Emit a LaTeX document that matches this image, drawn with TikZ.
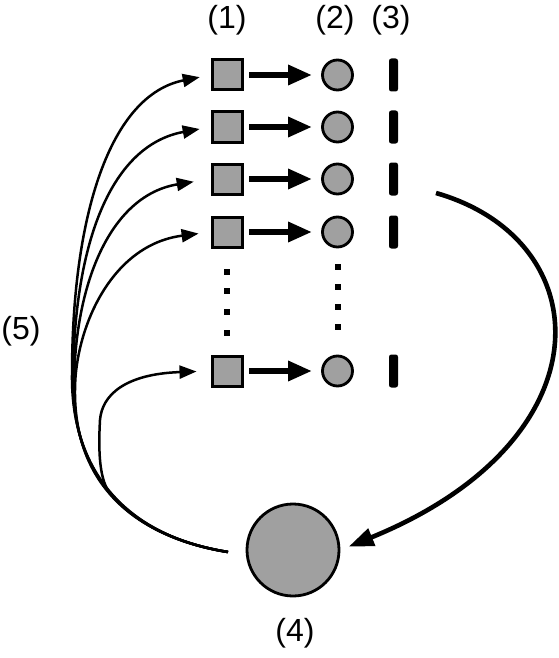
\documentclass[tikz,border=0pt]{standalone}
\usepackage{fontspec}
\setmainfont{Liberation Sans}
\usetikzlibrary{arrows.meta}
\definecolor{fillgray}{HTML}{A0A0A0}
\begin{document}
\begin{tikzpicture}[x=0.5pt,y=-0.5pt,
  sq/.style={rectangle,draw=black,line width=1.5pt,fill=fillgray,minimum size=15pt,inner sep=0pt},
  ci/.style={circle,draw=black,line width=1.4pt,fill=fillgray,minimum size=15pt,inner sep=0pt},
  bar/.style={rectangle,fill=black,minimum width=4.5pt,minimum height=16.5pt,inner sep=0pt,rounded corners=1.2pt},
  big/.style={circle,draw=black,line width=1.4pt,fill=fillgray,minimum size=46pt,inner sep=0pt},
  lbl/.style={font=\fontsize{16}{19}\selectfont,inner sep=0pt},
  thickarr/.style={line width=3pt,-{Triangle[length=12pt,width=9.5pt]},shorten <=2.75pt,shorten >=4.5pt},
  fanarr/.style={line width=1.25pt,-{Triangle[length=8.5pt,width=6.5pt]}},
  backarr/.style={line width=2.3pt,-{Triangle[length=12.5pt,width=9pt]}},
  dot/.style={fill=black}
]
\useasboundingbox (0,0) rectangle (558,658);

% labels
\node[lbl] (l1) at (227,20) {(1)};
\node[lbl] (l2) at (335,20) {(2)};
\node[lbl] (l3) at (391,20) {(3)};
\node[lbl] (l4) at (295,633) {(4)};
\node[lbl] (l5) at (21,331) {(5)};

% rows
\foreach \i/\y in {1/75,2/127,3/179,4/232,5/371}{
  \node[sq] (s\i) at (227,\y) {};
  \node[ci] (c\i) at (337.5,\y) {};
  \node[bar] (b\i) at (393.5,\y) {};
  \draw[thickarr] (s\i) -- (c\i);
}

% dots
\foreach \y in {272,291,312,333}{
  \fill[dot] (224,\y-3) rectangle (230,\y+3);
}
\foreach \y in {267,287,307,327}{
  \fill[dot] (334.5,\y-3) rectangle (340.5,\y+3);
}

% big circle
\node[big] (bigc) at (293,550) {};

% return arrow
\coordinate (rstart) at (436,193);
\draw[backarr,shorten >=4.5pt] (rstart) .. controls (600,240) and (610,440) .. (bigc.east);

% fan arrows
\coordinate (fstart) at (228,552);
\draw[fanarr,shorten >=5.5pt] (fstart) .. controls (120,535) and (71,465) .. (72,375)
   .. controls (72,215) and (110,95) .. (s1.west);
\draw[fanarr,shorten >=5.5pt] (fstart) .. controls (121,535) and (72,468) .. (73,380)
   .. controls (74,240) and (112,145) .. (s2.west);
\draw[fanarr,shorten >=8.5pt] (fstart) .. controls (122,535) and (73,471) .. (74,385)
   .. controls (75,280) and (112,195) .. (s3.west);
\draw[fanarr,shorten >=6pt] (fstart) .. controls (123,535) and (74,474) .. (75,390)
   .. controls (75,330) and (110,245) .. (s4.west);
\draw[fanarr,shorten >=7pt] (fstart) .. controls (175,543.5) and (136.25,523.25) .. (110.9,494.4)
   .. controls (100,482) and (98,455) .. (100,420)
   .. controls (102,395) and (125,374) .. (s5.west);
\end{tikzpicture}
\end{document}
